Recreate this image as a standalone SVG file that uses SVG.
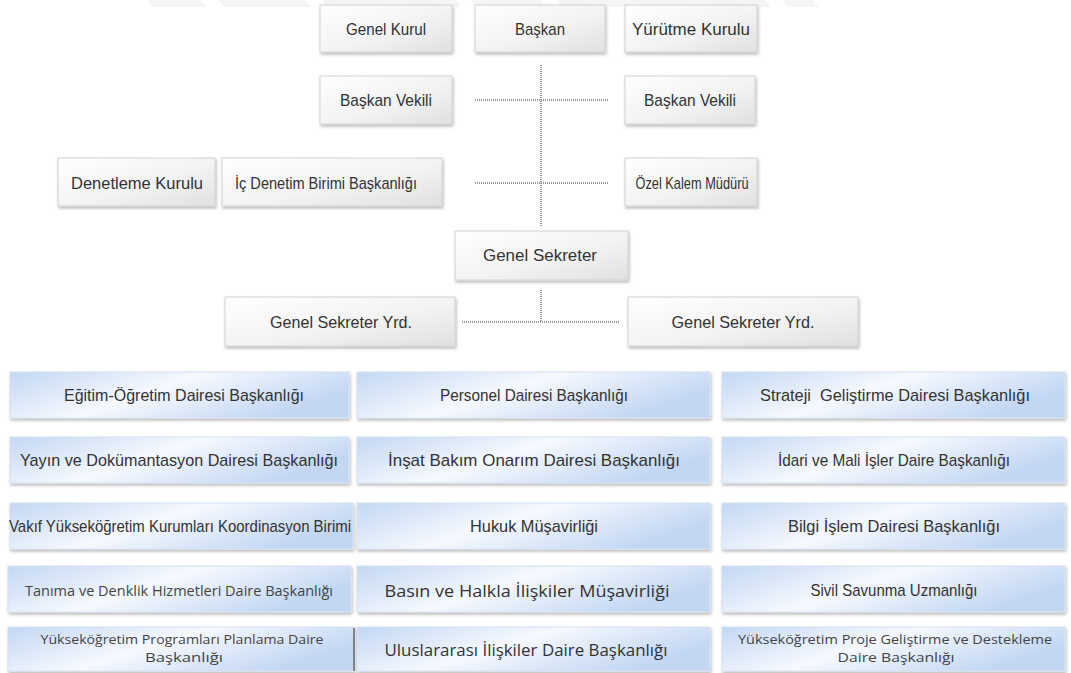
<svg xmlns="http://www.w3.org/2000/svg" width="1071" height="673" viewBox="0 0 1071 673">
<defs>
<linearGradient id="gGray" x1="0" y1="0" x2="1" y2="1">
<stop offset="0" stop-color="#ffffff"/>
<stop offset="0.55" stop-color="#f3f3f3"/>
<stop offset="1" stop-color="#e0e0e0"/>
</linearGradient>
<linearGradient id="gBlue" x1="0" y1="0" x2="1" y2="0.4">
<stop offset="0" stop-color="#c3d7f3"/>
<stop offset="0.5" stop-color="#f6f9fe"/>
<stop offset="1" stop-color="#c3d7f3"/>
</linearGradient>
<filter id="sh" x="-10%" y="-20%" width="120%" height="150%">
<feDropShadow dx="1" dy="2" stdDeviation="1.5" flood-color="#000" flood-opacity="0.28"/>
</filter>
</defs>
<style>
.g{fill:url(#gGray);stroke:#d2d2d2;stroke-width:1;filter:url(#sh)}
.b{fill:url(#gBlue);stroke:#d6e2f2;stroke-width:1;filter:url(#sh)}
.t{font-family:"Liberation Sans",Arial,sans-serif;font-size:17px;fill:#333;text-anchor:middle;dominant-baseline:central}
.o{font-family:"Open Sans","Liberation Sans",sans-serif;font-size:13px;fill:#444;text-anchor:middle;dominant-baseline:central}
text.o14{font-size:14px}
text.o15{font-size:17px;fill:#333}
.d{stroke:#9a9a9a;stroke-width:2;stroke-dasharray:1 1;fill:none}
.w{fill:#f5f5f5}
</style>
<rect width="1071" height="673" fill="#ffffff"/>
<g id="watermark">
<polygon class="w" points="147,0 200,0 206,7 153,7"/>
<polygon class="w" points="218,0 305,0 311,7 224,7"/>
<polygon class="w" points="322,0 455,0 461,7 328,7"/>
<polygon class="w" points="470,0 540,0 546,7 476,7"/>
<polygon class="w" points="556,0 765,0 771,7 562,7"/>
<polygon class="w" points="782,0 813,0 819,7 788,7"/>
</g>
<g id="connectors">
<line class="d" x1="541" y1="65" x2="541" y2="226"/>
<line class="d" x1="475" y1="100" x2="608" y2="100"/>
<line class="d" x1="475" y1="183" x2="608" y2="183"/>
<line class="d" x1="541" y1="290" x2="541" y2="322"/>
<line class="d" x1="462" y1="322" x2="620" y2="322"/>
</g>
<g id="genel-kurul"><rect class="g" x="320" y="5" width="132" height="47"/><text class="t" x="386" y="29" textLength="80" lengthAdjust="spacingAndGlyphs">Genel Kurul</text></g>
<g id="baskan"><rect class="g" x="475" y="5" width="130" height="47"/><text class="t" x="540" y="29" textLength="50" lengthAdjust="spacingAndGlyphs">Başkan</text></g>
<g id="yurutme-kurulu"><rect class="g" x="625" y="5" width="132" height="47"/><text class="t" x="691" y="29" textLength="118" lengthAdjust="spacingAndGlyphs">Yürütme Kurulu</text></g>
<g id="baskan-vekili-1"><rect class="g" x="320" y="76" width="132" height="48"/><text class="t" x="386" y="100" textLength="92" lengthAdjust="spacingAndGlyphs">Başkan Vekili</text></g>
<g id="baskan-vekili-2"><rect class="g" x="625" y="76" width="130" height="48"/><text class="t" x="690" y="100" textLength="92" lengthAdjust="spacingAndGlyphs">Başkan Vekili</text></g>
<g id="denetleme-kurulu"><rect class="g" x="58" y="158" width="157" height="48"/><text class="t" x="137" y="183" textLength="132" lengthAdjust="spacingAndGlyphs">Denetleme Kurulu</text></g>
<g id="ic-denetim"><rect class="g" x="222" y="158" width="220" height="48"/><text class="t" x="326" y="183" textLength="182" lengthAdjust="spacingAndGlyphs">İç Denetim Birimi Başkanlığı</text></g>
<g id="ozel-kalem"><rect class="g" x="625" y="158" width="132" height="48"/><text class="t" x="692" y="183" textLength="113" lengthAdjust="spacingAndGlyphs">Özel Kalem Müdürü</text></g>
<g id="genel-sekreter"><rect class="g" x="455" y="231" width="173" height="49"/><text class="t" x="540" y="255" textLength="114" lengthAdjust="spacingAndGlyphs">Genel Sekreter</text></g>
<g id="gs-yrd-1"><rect class="g" x="225" y="297" width="230" height="49"/><text class="t" x="341" y="322" textLength="142" lengthAdjust="spacingAndGlyphs">Genel Sekreter Yrd.</text></g>
<g id="gs-yrd-2"><rect class="g" x="628" y="297" width="230" height="49"/><text class="t" x="743" y="322" textLength="143" lengthAdjust="spacingAndGlyphs">Genel Sekreter Yrd.</text></g>

<g id="egitim"><rect class="b" x="10" y="372" width="339" height="46"/><text class="t" x="184" y="395" textLength="240" lengthAdjust="spacingAndGlyphs">Eğitim-Öğretim Dairesi Başkanlığı</text></g>
<g id="personel"><rect class="b" x="357" y="372" width="353" height="46"/><text class="t" x="534" y="395" textLength="188" lengthAdjust="spacingAndGlyphs">Personel Dairesi Başkanlığı</text></g>
<g id="strateji"><rect class="b" x="722" y="372" width="343" height="46"/><text class="t" x="895" y="395" textLength="270" lengthAdjust="spacingAndGlyphs" xml:space="preserve">Strateji  Geliştirme Dairesi Başkanlığı</text></g>

<g id="yayin"><rect class="b" x="10" y="437" width="339" height="46"/><text class="t" x="179" y="460" textLength="318" lengthAdjust="spacingAndGlyphs">Yayın ve Dokümantasyon Dairesi Başkanlığı</text></g>
<g id="insat"><rect class="b" x="357" y="437" width="353" height="46"/><text class="t" x="534" y="460" textLength="292" lengthAdjust="spacingAndGlyphs">İnşat Bakım Onarım Dairesi Başkanlığı</text></g>
<g id="idari"><rect class="b" x="722" y="437" width="343" height="46"/><text class="t" x="894" y="460" textLength="232" lengthAdjust="spacingAndGlyphs">İdari ve Mali İşler Daire Başkanlığı</text></g>

<g id="vakif"><rect class="b" x="10" y="503" width="343" height="46"/><text class="t" x="180" y="526" textLength="342" lengthAdjust="spacingAndGlyphs">Vakıf Yükseköğretim Kurumları Koordinasyon Birimi</text></g>
<g id="hukuk"><rect class="b" x="357" y="503" width="353" height="46"/><text class="t" x="534" y="526" textLength="128" lengthAdjust="spacingAndGlyphs">Hukuk Müşavirliği</text></g>
<g id="bilgi"><rect class="b" x="722" y="503" width="343" height="46"/><text class="t" x="894" y="526" textLength="212" lengthAdjust="spacingAndGlyphs">Bilgi İşlem Dairesi Başkanlığı</text></g>

<g id="tanima"><rect class="b" x="8" y="566" width="343" height="46"/><text class="o o14" x="179" y="590" textLength="308" lengthAdjust="spacingAndGlyphs">Tanıma ve Denklik Hizmetleri Daire Başkanlığı</text></g>
<g id="basin"><rect class="b" x="357" y="566" width="353" height="46"/><text class="o o15" x="527" y="590" textLength="285" lengthAdjust="spacingAndGlyphs">Basın ve Halkla İlişkiler Müşavirliği</text></g>
<g id="sivil"><rect class="b" x="722" y="566" width="343" height="46"/><text class="t" x="894" y="590" textLength="167" lengthAdjust="spacingAndGlyphs">Sivil Savunma Uzmanlığı</text></g>

<g id="programlar"><rect class="b" x="8" y="627" width="347" height="44"/><line x1="354" y1="628" x2="354" y2="671" stroke="#666" stroke-width="1.5"/><text class="o" x="182" y="639" textLength="283" lengthAdjust="spacingAndGlyphs">Yükseköğretim Programları Planlama Daire</text><text class="o" x="184" y="657" textLength="78" lengthAdjust="spacingAndGlyphs">Başkanlığı</text></g>
<g id="uluslararasi"><rect class="b" x="357" y="627" width="353" height="44"/><text class="o o15" x="526" y="649" textLength="283" lengthAdjust="spacingAndGlyphs">Uluslararası İlişkiler Daire Başkanlığı</text></g>
<g id="proje"><rect class="b" x="722" y="627" width="343" height="44"/><text class="o" x="895" y="639" textLength="314" lengthAdjust="spacingAndGlyphs">Yükseköğretim Proje Geliştirme ve Destekleme</text><text class="o" x="896" y="657" textLength="117" lengthAdjust="spacingAndGlyphs">Daire Başkanlığı</text></g>
</svg>
